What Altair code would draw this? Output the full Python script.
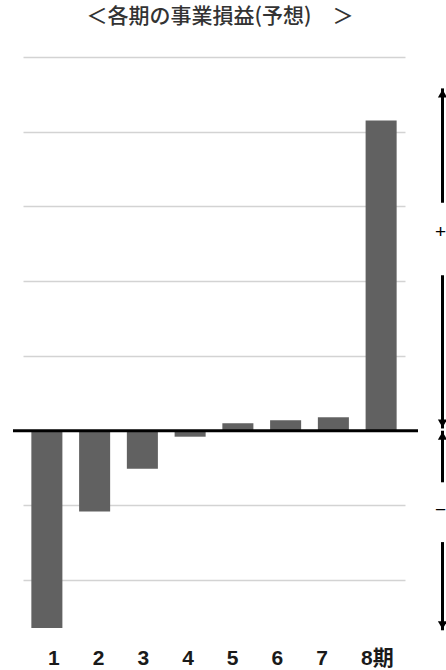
import altair as alt
import pandas as pd

# ---- data ----
periods = ["1", "2", "3", "4", "5", "6", "7", "8期"]
profit = [-2.64, -1.08, -0.51, -0.08, 0.10, 0.14, 0.18, 4.15]
grid_values = [-2, -1, 1, 2, 3, 4, 5]
title_text = "＜各期の事業損益(予想)　＞"

# right-hand annotation arrows (data units on the y scale)
arrow_start = [3.05, 2.08, -0.69, -1.49]
arrow_end = [4.58, 0.03, 0.0, -2.67]
up_tips = [4.58, 0.0]
down_tips = [0.03, -2.67]
sign_labels = ["+", "−"]
sign_values = [2.66, -1.06]

W, H = 382, 583
y_scale = alt.Scale(domain=[-2.8, 5], nice=False, zero=False)

bars_df = pd.DataFrame({"period": periods, "profit": profit})

bars = alt.Chart(bars_df).mark_bar(color="#616161").encode(
    x=alt.X("period:N", sort=periods,
            scale=alt.Scale(paddingInner=0.35, paddingOuter=0.175), axis=None),
    y=alt.Y("profit:Q", scale=y_scale,
            axis=alt.Axis(values=grid_values, grid=True, labels=False, ticks=False,
                          domain=False, title=None, gridColor="#d3d3d3", gridWidth=1.6)),
)

zero_line = alt.Chart(pd.DataFrame({"v": [0]})).mark_rule(
    color="black", strokeWidth=3
).encode(y=alt.Y("v:Q", scale=y_scale), x=alt.value(-10), x2=alt.value(395))

arrows_df = pd.DataFrame({"s": arrow_start, "e": arrow_end})
shafts = alt.Chart(arrows_df).mark_rule(color="black", strokeWidth=3).encode(
    y=alt.Y("s:Q", scale=y_scale), y2="e:Q", x=alt.value(419.5)
)
heads_up = alt.Chart(pd.DataFrame({"t": up_tips})).mark_point(
    shape="triangle-up", filled=True, color="black", size=85, opacity=1, yOffset=5
).encode(y=alt.Y("t:Q", scale=y_scale), x=alt.value(419.5))
heads_down = alt.Chart(pd.DataFrame({"t": down_tips})).mark_point(
    shape="triangle-down", filled=True, color="black", size=85, opacity=1, yOffset=-5
).encode(y=alt.Y("t:Q", scale=y_scale), x=alt.value(419.5))

signs = alt.Chart(pd.DataFrame({"lab": sign_labels, "v": sign_values})).mark_text(
    font="Liberation Sans", fontSize=19, color="black", align="center", baseline="middle"
).encode(y=alt.Y("v:Q", scale=y_scale), x=alt.value(417.5), text="lab:N")

xlabels = alt.Chart(pd.DataFrame({"period": periods})).mark_text(
    font="Liberation Sans, Noto Sans CJK JP", fontSize=21, fontWeight="bold",
    color="#1a1a1a", align="left", baseline="alphabetic"
).encode(
    x=alt.X("period:N", sort=periods,
            scale=alt.Scale(type="point", range=[25, 338], padding=0), axis=None),
    y=alt.value(H + 25),
    text="period:N",
)

title = alt.Chart(pd.DataFrame({"t": [title_text]})).mark_text(
    font="Noto Sans CJK JP", fontSize=21, fontWeight=500, color="#333333",
    align="center", baseline="middle"
).encode(x=alt.value(197), y=alt.value(-40), text="t:N")

chart = alt.layer(
    bars, zero_line, shafts, heads_up, heads_down, signs, xlabels, title
).resolve_scale(x="independent").properties(
    width=W, height=H,
    autosize=alt.AutoSizeParams(type="none"),
    padding={"left": 23, "top": 57, "right": 41, "bottom": 30},
    background="white",
).configure_view(stroke=None)

chart.save("out.html", embed_options={"renderer": "svg", "actions": False})
